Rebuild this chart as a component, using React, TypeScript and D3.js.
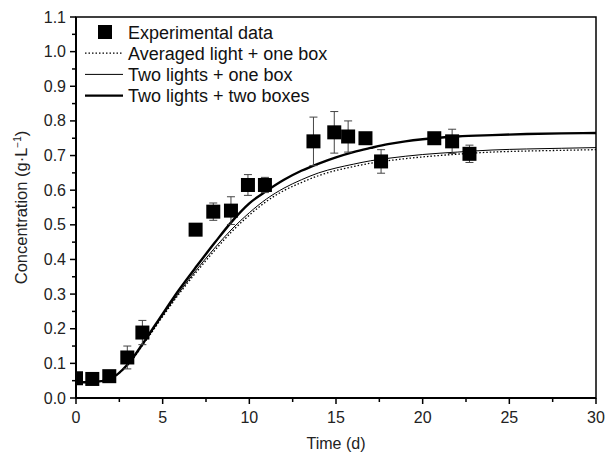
import React from 'react';
import * as d3 from 'd3';

// experimental points
const expTime = [0, 0.94, 1.92, 2.96, 3.83, 6.9, 7.92, 8.94, 9.92, 10.9, 13.7, 14.9, 15.7, 16.7, 17.6, 20.67, 21.7, 22.7];
const expConc = [0.057, 0.055, 0.063, 0.117, 0.189, 0.486, 0.538, 0.541, 0.615, 0.615, 0.741, 0.767, 0.755, 0.75, 0.683, 0.75, 0.741, 0.705];
const expErr = [0, 0, 0, 0.033, 0.035, 0, 0.025, 0.04, 0.03, 0.022, 0.07, 0.06, 0.045, 0.015, 0.034, 0.015, 0.035, 0.025];

// model curves
const fitTime = [0, 1, 2, 3, 4, 5, 6, 7, 8, 9, 10, 11, 12, 13, 14, 15, 16, 17, 18, 19, 20, 22, 24, 26, 28, 30];
const twoLightsTwoBoxes = [0.045, 0.046, 0.056, 0.098, 0.168, 0.243, 0.316, 0.383, 0.448, 0.51, 0.562, 0.598, 0.63, 0.656, 0.677, 0.695, 0.71, 0.722, 0.733, 0.741, 0.747, 0.755, 0.759, 0.762, 0.764, 0.765];
const twoLightsOneBox = [0.045, 0.046, 0.056, 0.097, 0.165, 0.238, 0.308, 0.373, 0.433, 0.488, 0.535, 0.575, 0.606, 0.63, 0.65, 0.664, 0.675, 0.685, 0.692, 0.698, 0.703, 0.71, 0.716, 0.719, 0.721, 0.723];
const averagedLightOneBox = [0.045, 0.046, 0.056, 0.096, 0.163, 0.235, 0.304, 0.367, 0.426, 0.481, 0.528, 0.568, 0.599, 0.622, 0.642, 0.657, 0.668, 0.678, 0.685, 0.691, 0.696, 0.704, 0.71, 0.713, 0.715, 0.717];

const xTicks = [0, 5, 10, 15, 20, 25, 30];
const yTicks = [0, 0.1, 0.2, 0.3, 0.4, 0.5, 0.6, 0.7, 0.8, 0.9, 1.0, 1.1];

const legendItems = [
  { label: 'Experimental data', kind: 'square' },
  { label: 'Averaged light + one box', kind: 'dotted' },
  { label: 'Two lights + one box', kind: 'thin' },
  { label: 'Two lights + two boxes', kind: 'thick' },
];

const W = 606;
const H = 454;
const m = { left: 76, right: 10, top: 17, bottom: 56 };
const font = '"Liberation Sans", Arial, sans-serif';

export default function App() {
  const x = d3.scaleLinear().domain([0, 30]).range([m.left, W - m.right]);
  const y = d3.scaleLinear().domain([0, 1.1]).range([H - m.bottom, m.top]);
  const x0 = x(0), x1 = x(30), y0 = y(0), y1 = y(1.1);

  const line = (vals: number[]) =>
    d3.line<number>()
      .x((_, i) => x(fitTime[i]))
      .y((d) => y(d))
      .curve(d3.curveMonotoneX)(vals) as string;

  const xMinor = d3.range(0, 30.01, 2.5);
  const yMinor = d3.range(0, 1.101, 0.05);
  const sq = 14;

  return (
    <svg width={W} height={H} style={{ position: 'absolute', left: 0, top: 0, background: '#fff' }} fontFamily={font}>
      <defs>
        <clipPath id="plot">
          <rect x={x0} y={y1} width={x1 - x0} height={y0 - y1} />
        </clipPath>
      </defs>

      {/* curves */}
      <g clipPath="url(#plot)" fill="none" stroke="#000">
        <path d={line(averagedLightOneBox)} strokeWidth={1.3} strokeDasharray="1.5,2" />
        <path d={line(twoLightsOneBox)} strokeWidth={1} />
        <path d={line(twoLightsTwoBoxes)} strokeWidth={2.4} />
      </g>

      {/* error bars + points */}
      <g clipPath="url(#plot)">
        {expTime.map((t, i) => {
          const cx = x(t);
          const cy = y(expConc[i]);
          const e = expErr[i];
          return (
            <g key={i}>
              {e > 0 && (
                <g stroke="#444" strokeWidth={1}>
                  <line x1={cx} x2={cx} y1={y(expConc[i] + e)} y2={y(expConc[i] - e)} />
                  <line x1={cx - 4} x2={cx + 4} y1={y(expConc[i] + e)} y2={y(expConc[i] + e)} />
                  <line x1={cx - 4} x2={cx + 4} y1={y(expConc[i] - e)} y2={y(expConc[i] - e)} />
                </g>
              )}
              <rect x={cx - sq / 2} y={cy - sq / 2} width={sq} height={sq} fill="#000" />
            </g>
          );
        })}
      </g>

      {/* frame */}
      <rect x={x0} y={y1} width={x1 - x0} height={y0 - y1} fill="none" stroke="#000" strokeWidth={1.5} />
      <line x1={x0} x2={x1} y1={y0} y2={y0} stroke="#000" strokeWidth={2} />
      <line x1={x0} x2={x0} y1={y0} y2={y1} stroke="#000" strokeWidth={2} />

      {/* x axis ticks */}
      <g stroke="#000" strokeWidth={1.5}>
        {xMinor.map((t) => (
          <line key={'xm' + t} x1={x(t)} x2={x(t)} y1={y0} y2={y0 + (t % 5 === 0 ? 6 : 4)} />
        ))}
        {yMinor.map((v, i) => (
          <line key={'ym' + i} x1={x0} x2={x0 - (i % 2 === 0 ? 6 : 4)} y1={y(v)} y2={y(v)} />
        ))}
      </g>
      <g fontSize={16} fill="#222">
        {xTicks.map((t) => (
          <text key={'xl' + t} x={x(t)} y={y0 + 25} textAnchor="middle">{t}</text>
        ))}
        {yTicks.map((v) => (
          <text key={'yl' + v} x={x0 - 10} y={y(v) + 5.5} textAnchor="end">{v.toFixed(1)}</text>
        ))}
      </g>

      {/* axis titles */}
      <text x={(x0 + x1) / 2} y={449} textAnchor="middle" fontSize={16} fill="#222">Time (d)</text>
      <text transform={`translate(27, ${(y0 + y1) / 2}) rotate(-90)`} textAnchor="middle" fontSize={16.5} fill="#222">
        Concentration (g·L<tspan fontSize={10} dy={-6}>−1</tspan><tspan dy={6}>)</tspan>
      </text>

      {/* legend */}
      <g fontSize={18} fill="#111">
        {legendItems.map((it, i) => {
          const cy = 32 + i * 21.2;
          return (
            <g key={it.label}>
              {it.kind === 'square' && <rect x={98} y={cy - 7} width={14} height={14} fill="#000" />}
              {it.kind === 'dotted' && <line x1={85} x2={123} y1={cy} y2={cy} stroke="#000" strokeWidth={1.2} strokeDasharray="1.5,2" />}
              {it.kind === 'thin' && <line x1={85} x2={123} y1={cy} y2={cy} stroke="#000" strokeWidth={1} />}
              {it.kind === 'thick' && <line x1={85} x2={123} y1={cy} y2={cy} stroke="#000" strokeWidth={2.4} />}
              <text x={128} y={cy + 6.5}>{it.label}</text>
            </g>
          );
        })}
      </g>
    </svg>
  );
}
